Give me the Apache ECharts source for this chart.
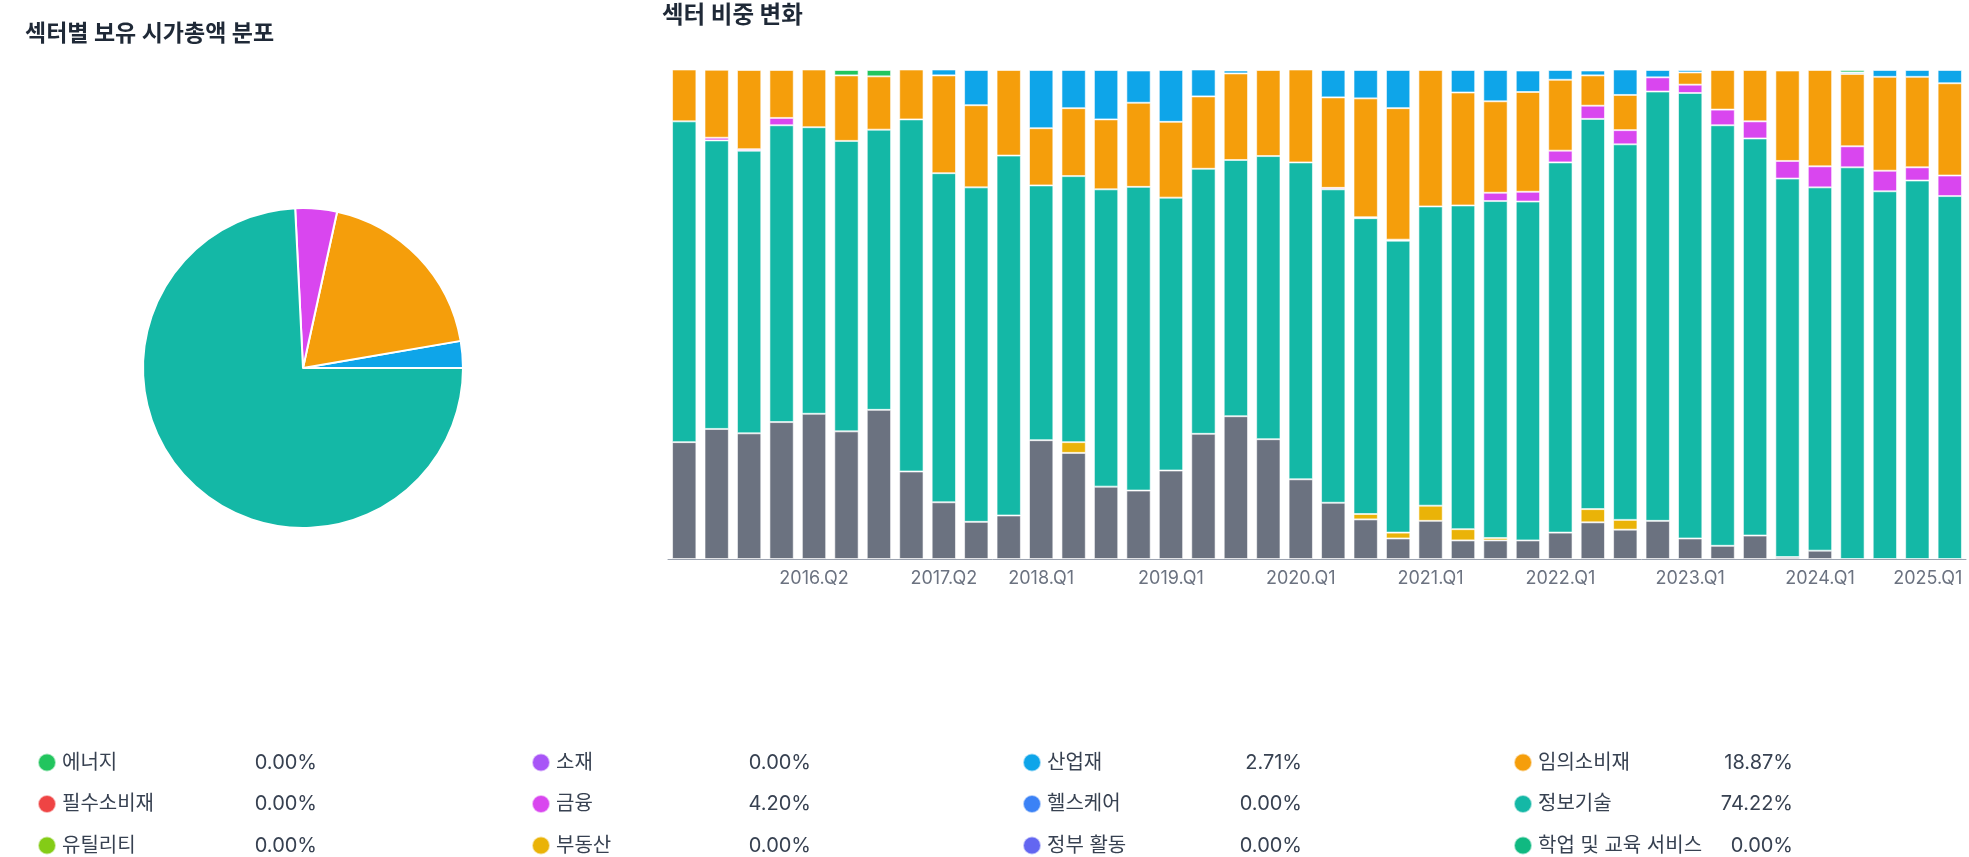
<!DOCTYPE html>
<html>
<head>
<meta charset="utf-8">
<title>섹터 비중</title>
<script src="https://cdn.jsdelivr.net/npm/echarts@6/dist/echarts.min.js"></script>
<style>
  html, body { margin: 0; padding: 0; background: #fff; }
  #main { width: 1969px; height: 857px; }
</style>
</head>
<body>
<div id="main"></div>
<script>
// 분기
var quarters = [
  '2015.Q2','2015.Q3','2015.Q4','2016.Q1','2016.Q2','2016.Q3','2016.Q4','2017.Q1','2017.Q2','2017.Q3',
  '2017.Q4','2018.Q1','2018.Q2','2018.Q3','2018.Q4','2019.Q1','2019.Q2','2019.Q3','2019.Q4','2020.Q1',
  '2020.Q2','2020.Q3','2020.Q4','2021.Q1','2021.Q2','2021.Q3','2021.Q4','2022.Q1','2022.Q2','2022.Q3',
  '2022.Q4','2023.Q1','2023.Q2','2023.Q3','2023.Q4','2024.Q1','2024.Q2','2024.Q3','2024.Q4','2025.Q1'
];
// x축에 보이는 라벨
var shownLabels = ['2016.Q2','2017.Q2','2018.Q1','2019.Q1','2020.Q1','2021.Q1','2022.Q1','2023.Q1','2024.Q1','2025.Q1'];

var sectorNames = ['에너지','소재','산업재','임의소비재','필수소비재','금융','헬스케어','정보기술','유틸리티','부동산','정부 활동','학업 및 교육 서비스'];
var sectorColors = ['#22c55e','#a855f7','#0ea5e9','#f59e0b','#ef4444','#d946ef','#3b82f6','#14b8a6','#84cc16','#eab308','#6366f1','#10b981'];
var otherName = '기타';
var otherColor = '#6b7280';

// 현재 보유 시가총액 비중 (%)
var currentShare = [0, 0, 2.71, 18.87, 0, 4.20, 0, 74.22, 0, 0, 0, 0];

// 분기별 섹터 비중 (%)
var energy      = [0,0,0,0,0,1.1,1.3,0,0,0, 0,0,0,0,0,0,0,0,0,0, 0,0,0,0,0,0,0,0,0,0, 0,0,0,0,0,0,0.5,0,0,0];
var materials   = [];
var industrials = [0,0,0,0,0,0,0,0,1.2,7.2, 0,11.9,7.8,10.1,6.6,10.6,5.5,0.6,0,0, 5.6,5.8,7.8,0,4.6,6.4,4.4,2.0,1.0,5.2, 1.5,0.5,0,0,0,0,0.3,1.4,1.4,2.71];
var consDisc    = [10.6,13.9,16.2,9.8,11.8,13.4,10.9,10.2,20.0,16.8, 17.5,11.7,13.9,14.3,17.2,15.5,14.8,17.7,17.6,19.0, 18.5,24.3,26.9,27.9,23.1,18.7,20.4,14.5,6.2,7.2, 0,2.5,8.1,10.5,18.5,19.7,14.8,19.2,18.5,18.87];
var consStaples = [];
var financials  = [0,0.55,0.3,1.5,0,0,0,0,0,0, 0,0,0,0,0,0,0,0,0,0, 0.3,0.2,0.2,0,0,1.7,2.0,2.4,2.7,2.9, 2.9,1.7,3.2,3.5,3.6,4.3,4.3,4.2,2.7,4.20];
var healthcare  = [];
var infoTech    = [65.6,59.0,57.8,60.7,58.6,59.4,57.3,72.0,67.3,68.4, 73.6,52.1,54.4,60.8,62.1,55.8,54.2,52.4,57.9,64.8, 64.1,60.5,59.7,61.2,66.2,68.9,69.3,75.7,79.8,76.8, 87.8,91.1,86.0,81.2,77.4,74.3,80.1,75.2,77.4,74.22];
var utilities   = [];
var realEstate  = [0,0,0,0,0,0,0,0,0,0, 0,0,2.2,0,0,0,0,0,0,0, 0,1.1,1.2,3.1,2.3,0.5,0,0,2.7,2.0, 0,0,0,0,0,0,0,0,0,0];
var government  = [];
var education   = [];
var others      = [23.9,26.6,25.7,28.0,29.7,26.1,30.5,17.9,11.6,7.6, 8.9,24.3,21.7,14.8,14.0,18.1,25.6,29.2,24.5,16.3, 11.5,8.1,4.2,7.8,3.8,3.8,3.8,5.4,7.5,6.0, 7.8,4.2,2.7,4.8,0.4,1.7,0,0,0,0];

var sectorData = [energy, materials, industrials, consDisc, consStaples, financials, healthcare, infoTech, utilities, realEstate, government, education];

var chart = echarts.init(document.getElementById('main'));

function toBar(arr) {
  return arr.map(function (v) { return v === 0 ? '-' : v; });
}

function barSeries(name, color, data) {
  return {
    name: name,
    type: 'bar',
    stack: 'total',
    barWidth: '75%',
    data: toBar(data),
    itemStyle: { color: color, borderColor: 'rgba(255,255,255,0.6)', borderWidth: 1 },
    emphasis: { disabled: true }
  };
}

// 아래부터 쌓이는 순서: 기타 -> 학업 ... -> 에너지
var series = [barSeries(otherName, otherColor, others)];
for (var i = sectorNames.length - 1; i >= 0; i--) {
  series.push(barSeries(sectorNames[i], sectorColors[i], sectorData[i]));
}

var pieData = [];
sectorNames.forEach(function (n, i) {
  if (currentShare[i] > 0) pieData.push({ name: n, value: currentShare[i], itemStyle: { color: sectorColors[i] } });
});
series.push({
  name: '보유',
  type: 'pie',
  center: [303, 368],
  radius: [0, 160],
  startAngle: 0,
  clockwise: false,
  label: { show: false },
  labelLine: { show: false },
  emphasis: { disabled: true },
  itemStyle: { borderColor: '#fff', borderWidth: 2 },
  data: pieData
});

// 범례 4열
var colLeft = [37, 531, 1022, 1513];
var legends = colLeft.map(function (left, c) {
  return {
    orient: 'vertical',
    left: left,
    top: 752.5,
    padding: 0,
    itemWidth: 18,
    itemHeight: 18,
    itemGap: 21.5,
    icon: 'circle',
    selectedMode: false,
    data: [sectorNames[c], sectorNames[c + 4], sectorNames[c + 8]],
    formatter: function (name) {
      var k = sectorNames.indexOf(name);
      return '{g|}{n|' + name + '}{p|' + currentShare[k].toFixed(2) + '%}';
    },
    textStyle: {
      fontSize: 20,
      color: '#374151',
      rich: {
        g: { width: 1 },
        n: { width: 185, fontSize: 20, color: '#374151' },
        p: { width: 70, align: 'right', fontSize: 20, color: '#374151' }
      }
    }
  };
});

var textFont = 'Inter, "Noto Sans CJK KR", sans-serif';
var lastLabel = quarters[quarters.length - 1];

var option = {
  animation: false,
  textStyle: { fontFamily: textFont },
  title: [
    { text: '섹터별 보유 시가총액 분포', left: 25, top: 23, padding: 0, textStyle: { fontSize: 23, fontWeight: 'bold', color: '#1f2937', fontFamily: textFont } },
    { text: '섹터 비중 변화', left: 662, top: 4, padding: 0, textStyle: { fontSize: 23.5, fontWeight: 'bold', color: '#1f2937', fontFamily: textFont } }
  ],
  legend: legends,
  grid: { left: 668, right: 3, top: 70, bottom: 298, outerBoundsMode: 'none' },
  xAxis: {
    type: 'category',
    data: quarters,
    axisLine: { lineStyle: { color: '#9ca3af', width: 1 } },
    axisTick: {
      alignWithLabel: true,
      length: 10,
      lineStyle: { color: '#9ca3af' },
      interval: function (idx, val) { return shownLabels.indexOf(val) >= 0; }
    },
    axisLabel: {
      color: '#6b7280',
      fontSize: 18,
      margin: 11,
      interval: function (idx, val) { return shownLabels.indexOf(val) >= 0; },
      // 마지막 라벨은 화면 안쪽으로 밀어 넣기
      formatter: function (val) { return val === lastLabel ? '{e|' + val + '}' : val; },
      rich: {
        e: { color: '#6b7280', fontSize: 18, padding: [0, 44, 0, 0] }
      }
    }
  },
  yAxis: {
    type: 'value',
    min: 0,
    max: 100,
    show: false,
    splitLine: { show: false }
  },
  series: series
};

chart.setOption(option);
</script>
</body>
</html>
